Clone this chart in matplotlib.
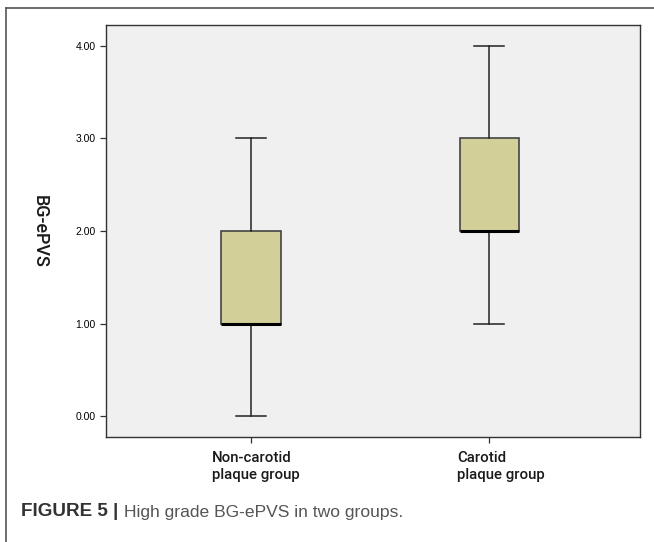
import matplotlib.pyplot as plt
from matplotlib.lines import Line2D
from matplotlib.transforms import ScaledTranslation

# box plot summary per group
groups = ["Non-carotid\nplaque group", "Carotid\nplaque group"]
mins = [0.0, 1.0]
q1s = [1.0, 2.0]
medians = [1.0, 2.0]
q3s = [2.0, 3.0]
maxs = [3.0, 4.0]
yticks = [0.0, 1.0, 2.0, 3.0, 4.0]

plt.rcParams['font.family'] = ['Liberation Sans', 'DejaVu Sans']

fig = plt.figure(figsize=(6.54, 5.42), dpi=100)
ax = fig.add_axes([106/654, 1 - 437/542, (640-106)/654, (437-25)/542])

stats = []
for i in range(len(groups)):
    stats.append(dict(whislo=mins[i], q1=q1s[i], med=medians[i],
                      q3=q3s[i], whishi=maxs[i], fliers=[]))

ax.bxp(stats, positions=[1, 2], widths=0.248, patch_artist=True,
       showfliers=False,
       boxprops=dict(facecolor='#d3cf98', edgecolor='#444444', linewidth=1.2),
       medianprops=dict(color='black', linewidth=2.2),
       whiskerprops=dict(color='#222222', linewidth=1.1),
       capprops=dict(color='#222222', linewidth=1.1),
       capwidths=0.124)

ax.set_facecolor('#f0f0f0')
ax.set_xlim(0.391, 2.634)
ax.set_ylim(-0.227, 4.227)
ax.set_yticks(yticks)
ax.set_yticklabels(['%.2f' % v for v in yticks], fontsize=7.5)
ax.set_xticks([1, 2])
ax.set_xticklabels(groups, fontsize=10.8, family=['Roboto', 'DejaVu Sans'],
                   fontweight='medium', color='#1a1a1a',
                   multialignment='left', linespacing=1.3)
ax.tick_params(axis='both', direction='out', length=4, width=0.9, color='#333333')
ax.tick_params(axis='x', pad=6)
# labels sit a little right of their ticks in the original
for lbl, dx in zip(ax.get_xticklabels(), [5, 12]):
    lbl.set_transform(lbl.get_transform() + ScaledTranslation(dx/100, 0, fig.dpi_scale_trans))
for s in ax.spines.values():
    s.set_color('#333333')
    s.set_linewidth(1.0)

fig.text(40/654, 1 - 231/542, 'BG-ePVS', rotation=-90, fontsize=13,
         family=['Roboto', 'DejaVu Sans'], fontweight='medium',
         color='#1a1a1a', ha='center', va='center')

# outer frame (top and left edges)
fig.add_artist(Line2D([6/654, 1], [1 - 8/542, 1 - 8/542], color='#555555', lw=1.2))
fig.add_artist(Line2D([6/654, 6/654], [0, 1 - 8/542], color='#555555', lw=1.2))

fig.text(21/654, 1 - 512/542, 'FIGURE 5 |', fontsize=13.6, fontweight='bold',
         color='#333333', ha='left', va='center')
fig.text(124/654, 1 - 512/542, 'High grade BG-ePVS in two groups.', fontsize=12.6,
         color='#555555', ha='left', va='center')

fig.savefig('out.png', dpi=100, facecolor='white')
